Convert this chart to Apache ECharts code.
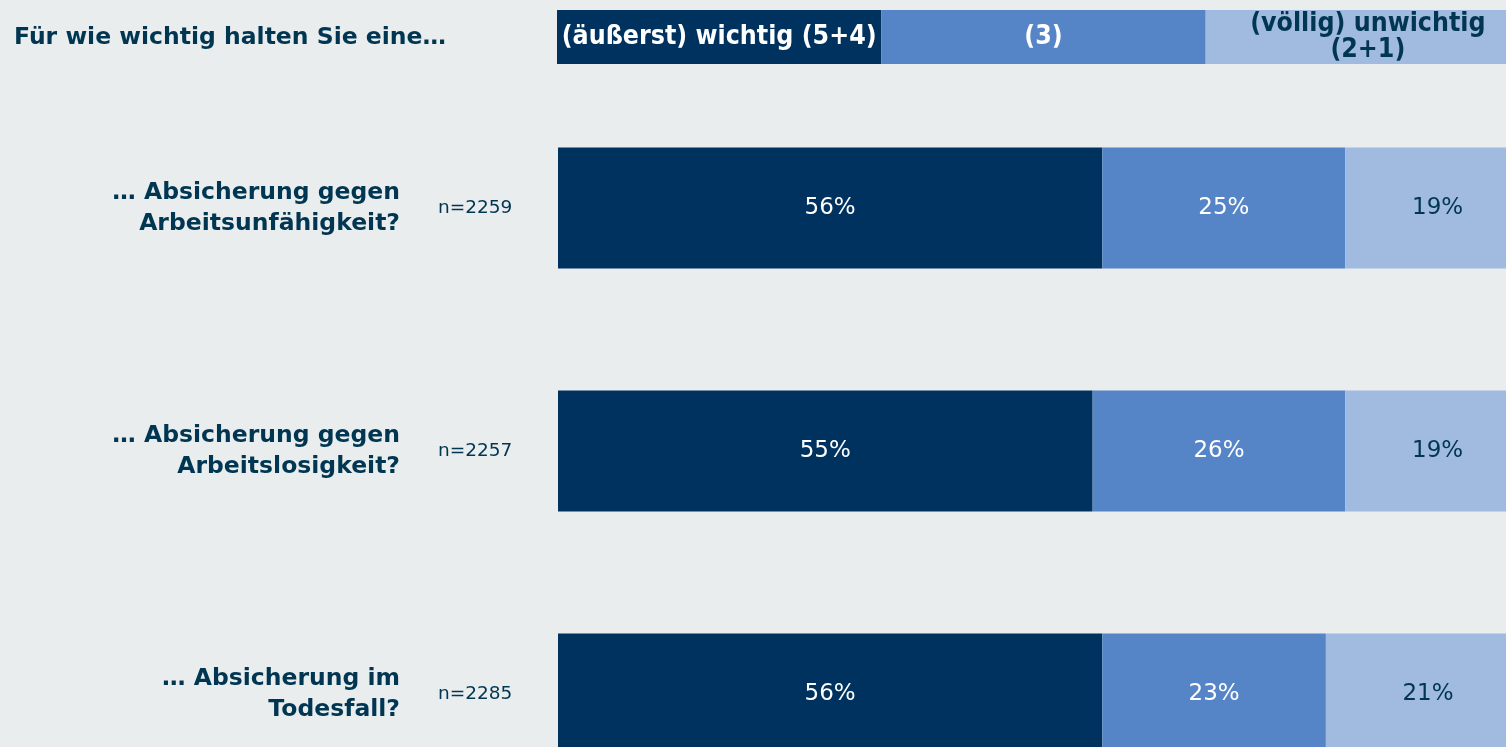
<!DOCTYPE html>
<html>
<head>
<meta charset="utf-8">
<script src="https://cdn.jsdelivr.net/npm/echarts@6/dist/echarts.min.js"></script>
<style>
  html, body { margin: 0; padding: 0; background: #E9EDEE; }
  #chart { width: 1506px; height: 747px; }
</style>
</head>
<body>
<div id="chart"></div>
<script>
// Fragen (Zeilen)
const categories = [
  '… Absicherung gegen\nArbeitsunfähigkeit?',
  '… Absicherung gegen\nArbeitslosigkeit?',
  '… Absicherung im\nTodesfall?'
]
const sampleSizes = ['n=2259', 'n=2257', 'n=2285']
// Antwortkategorien (Kopfzeile)
const answerNames = ['(äußerst) wichtig (5+4)', '(3)', '(völlig) unwichtig\n(2+1)']
// Anteile in %
const important = [56, 55, 56]
const neutral = [25, 26, 23]
const unimportant = [19, 19, 21]

const colors = ['#00325F', '#5584C7', '#A1BADF']
const textDark = '#003652'
const font = 'DejaVu Sans'
const condFont = '"DejaVu Sans Condensed", "Liberation Sans Narrow", "DejaVu Sans"'

// Balken laufen rechts über den Rand hinaus (wie im Original abgeschnitten)
const visibleShare = 948 / 972

const chart = echarts.init(document.getElementById('chart'))

// Kopfzeile: drei gleich breite Felder
const headerSeries = answerNames.map((name, i) => ({
  type: 'bar',
  stack: 'head',
  xAxisIndex: 1,
  yAxisIndex: 2,
  barWidth: 54,
  clip: false,
  data: [1],
  itemStyle: { color: colors[i] },
  label: {
    show: true,
    position: 'inside',
    formatter: name,
    color: i === 2 ? textDark : '#FFFFFF',
    fontFamily: condFont,
    fontWeight: 'bold',
    fontSize: 26.5,
    lineHeight: 26
  },
  silent: true
}))

const valueSeries = [important, neutral, unimportant].map((vals, i) => ({
  type: 'bar',
  stack: 'total',
  xAxisIndex: 0,
  yAxisIndex: 0,
  barWidth: 121,
  clip: false,
  data: vals,
  itemStyle: { color: colors[i] },
  label: {
    show: true,
    position: 'inside',
    formatter: '{c}%',
    color: i === 2 ? textDark : '#FFFFFF',
    fontFamily: font,
    fontSize: 23
  },
  silent: true
}))

const option = {
  backgroundColor: '#E9EDEE',
  animation: false,
  title: {
    text: 'Für wie wichtig halten Sie eine…',
    left: 9,
    top: 21,
    textStyle: {
      color: textDark,
      fontFamily: font,
      fontWeight: 'bold',
      fontSize: 23.5
    }
  },
  grid: [
    { left: 558, top: 208, right: 0, height: 486 },
    { left: 557, top: 10, right: 0, height: 54 }
  ],
  xAxis: [
    { type: 'value', gridIndex: 0, min: 0, max: 100 * visibleShare, show: false },
    { type: 'value', gridIndex: 1, min: 0, max: 3 * visibleShare, show: false }
  ],
  yAxis: [
    {
      type: 'category',
      gridIndex: 0,
      inverse: true,
      boundaryGap: false,
      data: categories,
      axisLine: { show: false },
      axisTick: { show: false },
      splitLine: { show: false },
      axisLabel: {
        margin: 158,
        align: 'right',
        color: textDark,
        fontFamily: font,
        fontWeight: 'bold',
        fontSize: 23.5,
        lineHeight: 31,
        padding: [0, 0, 17, 0]
      }
    },
    {
      type: 'category',
      gridIndex: 0,
      inverse: true,
      boundaryGap: false,
      position: 'left',
      data: sampleSizes,
      axisLine: { show: false },
      axisTick: { show: false },
      splitLine: { show: false },
      axisLabel: {
        margin: 120,
        align: 'left',
        color: textDark,
        fontFamily: font,
        fontSize: 18.5
      }
    },
    { type: 'category', gridIndex: 1, data: [''], show: false }
  ],
  series: [...headerSeries, ...valueSeries]
}

chart.setOption(option)
</script>
</body>
</html>
